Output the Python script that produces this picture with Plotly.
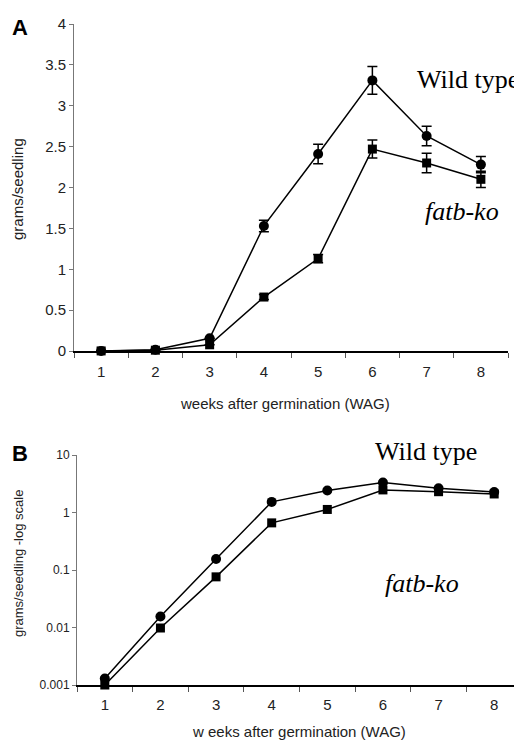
import plotly.graph_objects as go

weeks = ["1", "2", "3", "4", "5", "6", "7", "8"]
wt_mean = [0.0013, 0.0155, 0.155, 1.53, 2.41, 3.31, 2.63, 2.28]
wt_err = [0.0, 0.0, 0.0, 0.07, 0.12, 0.17, 0.12, 0.10]
ko_mean = [0.001, 0.0098, 0.076, 0.66, 1.13, 2.47, 2.30, 2.10]
ko_err = [0.0, 0.0, 0.0, 0.03, 0.05, 0.11, 0.12, 0.10]

a_yticks = [0, 0.5, 1, 1.5, 2, 2.5, 3, 3.5, 4]
b_yticks = [0.001, 0.01, 0.1, 1, 10]
b_yticklabels = ["0.001", "0.01", "0.1", "1", "10"]

# page body has an 8px margin; size the figure to the visible area
O = 8
W, H = 522 - O, 741 - O
def X(x):
    return (x - O) / W
def Y(y):
    return 1 - (y - O) / H

fig = go.Figure()

line = dict(color="black", width=1.5)
# Panel A
fig.add_trace(go.Scatter(x=weeks, y=wt_mean, mode="lines+markers", line=line,
                         marker=dict(symbol="circle", size=10, color="black"),
                         error_y=dict(type="data", array=wt_err, visible=True, color="black", thickness=1.5, width=5),
                         xaxis="x", yaxis="y", cliponaxis=False, showlegend=False))
fig.add_trace(go.Scatter(x=weeks, y=ko_mean, mode="lines+markers", line=line,
                         marker=dict(symbol="square", size=9, color="black"),
                         error_y=dict(type="data", array=ko_err, visible=True, color="black", thickness=1.5, width=5),
                         xaxis="x", yaxis="y", cliponaxis=False, showlegend=False))
# Panel B
fig.add_trace(go.Scatter(x=weeks, y=wt_mean, mode="lines+markers", line=line,
                         marker=dict(symbol="circle", size=10, color="black"),
                         xaxis="x2", yaxis="y2", cliponaxis=False, showlegend=False))
fig.add_trace(go.Scatter(x=weeks, y=ko_mean, mode="lines+markers", line=line,
                         marker=dict(symbol="square", size=9, color="black"),
                         xaxis="x2", yaxis="y2", cliponaxis=False, showlegend=False))

sans = "Arial, Liberation Sans, sans-serif"
tickfont_a = dict(family=sans, size=15, color="#222")
tickfont_b = dict(family=sans, size=12, color="#222")
titlefont = dict(family=sans, size=15, color="#222")

fig.update_layout(
    width=W, height=H, margin=dict(l=0, r=0, t=0, b=0, autoexpand=False),
    paper_bgcolor="white", plot_bgcolor="white",
    xaxis=dict(domain=[X(74), X(508)], anchor="y", type="category", range=[-0.5, 7.5],
               tickson="boundaries", ticks="outside", ticklen=5, tickcolor="#555",
               showline=True, linecolor="black", linewidth=1.5, showgrid=False,
               tickfont=tickfont_a, automargin=False, ticklabelstandoff=6),
    yaxis=dict(domain=[Y(351), Y(24)], anchor="x", range=[0, 4], tickvals=a_yticks,
               ticks="outside", ticklen=4, tickcolor="#777", showline=True, linecolor="#777",
               linewidth=1, showgrid=False, zeroline=False, tickfont=tickfont_a, automargin=False),
    xaxis2=dict(domain=[X(77), 1.0], anchor="y2", type="category", range=[-0.5, 7.5],
                tickson="boundaries", ticks="outside", ticklen=5, tickcolor="#555",
                showline=True, linecolor="black", linewidth=1.5, showgrid=False,
                tickfont=tickfont_a, automargin=False, ticklabelstandoff=5),
    yaxis2=dict(domain=[Y(685), Y(455)], anchor="x2", type="log", range=[-3, 1],
                tickvals=b_yticks, ticktext=b_yticklabels,
                ticks="outside", ticklen=4, tickcolor="#777", showline=True, linecolor="#777",
                linewidth=1, showgrid=False, zeroline=False, tickfont=tickfont_b, automargin=False),
)

serif = "Times New Roman, Liberation Serif, serif"
annots = [
    dict(text="<b>A</b>", x=X(10), y=Y(28), xanchor="left", yanchor="middle",
         font=dict(family=sans, size=22, color="black")),
    dict(text="<b>B</b>", x=X(10), y=Y(453), xanchor="left", yanchor="middle",
         font=dict(family=sans, size=22, color="black")),
    dict(text="Wild type", x=X(415), y=Y(80), xanchor="left", yanchor="middle",
         font=dict(family=serif, size=26, color="black")),
    dict(text="<i>fatb-ko</i>", x=X(423), y=Y(212), xanchor="left", yanchor="middle",
         font=dict(family=serif, size=26, color="black")),
    dict(text="Wild type", x=X(373), y=Y(452), xanchor="left", yanchor="middle",
         font=dict(family=serif, size=26, color="black")),
    dict(text="<i>fatb-ko</i>", x=X(383), y=Y(583), xanchor="left", yanchor="middle",
         font=dict(family=serif, size=26, color="black")),
    # axis titles
    dict(text="weeks after germination (WAG)", x=X(285), y=Y(403), xanchor="center", yanchor="middle",
         font=titlefont),
    dict(text="w eeks after germination (WAG)", x=X(299), y=Y(731), xanchor="center", yanchor="middle",
         font=titlefont),
    dict(text="grams/seedling", x=X(18), y=Y(189), xanchor="center", yanchor="middle",
         textangle=-90, font=dict(family=sans, size=15, color="#222")),
    dict(text="grams/seedling -log scale", x=X(18), y=Y(564), xanchor="center", yanchor="middle",
         textangle=-90, font=dict(family=sans, size=13, color="#222")),
]
for a in annots:
    fig.add_annotation(xref="paper", yref="paper", showarrow=False, **a)

fig.write_html("out.html")
